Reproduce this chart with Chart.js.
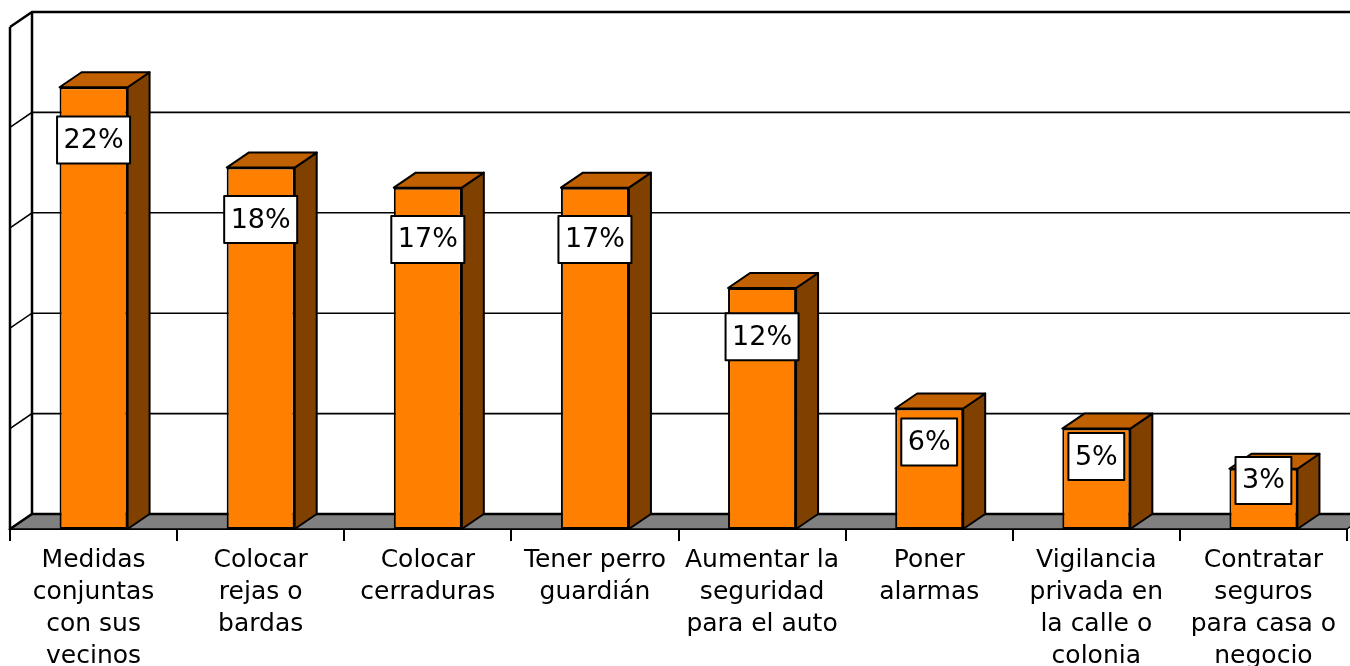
<!DOCTYPE html>
<html>
<head>
<meta charset="utf-8">
<script src="https://cdn.jsdelivr.net/npm/chart.js@4/dist/chart.umd.min.js"></script>
<style>
  html, body { margin: 0; padding: 0; background: #fff; }
</style>
</head>
<body>
<canvas id="chart" width="1350" height="666"></canvas>
<script>
// data
var categories = [
  ["Medidas", "conjuntas", "con sus", "vecinos"],
  ["Colocar", "rejas o", "bardas"],
  ["Colocar", "cerraduras"],
  ["Tener perro", "guardián"],
  ["Aumentar la", "seguridad", "para el auto"],
  ["Poner", "alarmas"],
  ["Vigilancia", "privada en", "la calle o", "colonia"],
  ["Contratar", "seguros", "para casa o", "negocio"]
];
var percentages = [22, 18, 17, 17, 12, 6, 5, 3];
var valueTicks = [0, 5, 10, 15, 20, 25];

// 3d offset of the back plane
var DX = 22;
var DY = 15;

function poly(ctx, pts) {
  ctx.beginPath();
  ctx.moveTo(pts[0][0], pts[0][1]);
  for (var i = 1; i < pts.length; i++) ctx.lineTo(pts[i][0], pts[i][1]);
  ctx.closePath();
}

var walls3d = {
  id: "walls3d",
  beforeDatasetsDraw: function (chart) {
    var ctx = chart.ctx, a = chart.chartArea, ys = chart.scales.y;
    var y0 = ys.getPixelForValue(0);
    var yTop = ys.getPixelForValue(valueTicks[valueTicks.length - 1]);
    ctx.save();
    // floor
    poly(ctx, [[a.left, y0], [a.right, y0], [a.right + DX, y0 - DY], [a.left + DX, y0 - DY]]);
    ctx.fillStyle = "#808080";
    ctx.fill();
    ctx.strokeStyle = "#000";
    ctx.lineWidth = 1.5;
    ctx.stroke();
    // grid lines on side wall and back wall
    valueTicks.forEach(function (v, i) {
      var p = ys.getPixelForValue(v);
      ctx.lineWidth = (i === valueTicks.length - 1 || i === 0) ? 2.5 : 1.6;
      ctx.beginPath();
      ctx.moveTo(a.left, p);
      ctx.lineTo(a.left + DX, p - DY);
      ctx.lineTo(chart.width, p - DY);
      ctx.stroke();
    });
    // wall edges
    ctx.lineWidth = 2.5;
    ctx.beginPath();
    ctx.moveTo(a.left, y0);
    ctx.lineTo(a.left, yTop);
    ctx.moveTo(a.left + DX, y0 - DY);
    ctx.lineTo(a.left + DX, yTop - DY);
    ctx.stroke();
    ctx.restore();
  },
  afterDatasetsDraw: function (chart) {
    var ctx = chart.ctx;
    var meta = chart.getDatasetMeta(0);
    ctx.save();
    ctx.strokeStyle = "#000";
    ctx.lineWidth = 2;
    ctx.lineJoin = "round";
    meta.data.forEach(function (bar) {
      var L = bar.x - bar.width / 2, R = bar.x + bar.width / 2;
      var t = bar.y, b = bar.base;
      // side face
      poly(ctx, [[R, t], [R + DX, t - DY], [R + DX, b - DY], [R, b]]);
      ctx.fillStyle = "#804000";
      ctx.fill();
      ctx.stroke();
      // top face
      poly(ctx, [[L, t], [L + DX, t - DY], [R + DX, t - DY], [R, t]]);
      ctx.fillStyle = "#C06000";
      ctx.fill();
      ctx.stroke();
    });
    // value labels
    ctx.font = "27px 'DejaVu Sans'";
    ctx.textAlign = "center";
    ctx.textBaseline = "middle";
    meta.data.forEach(function (bar, i) {
      var v = percentages[i];
      var txt = v + "%";
      var cy = bar.y + 53 * (1 - Math.exp(-(v - 2) / 4));
      var w = ctx.measureText(txt).width + 13;
      var h = 47;
      ctx.fillStyle = "#fff";
      ctx.fillRect(bar.x - w / 2, cy - h / 2, w, h);
      ctx.strokeRect(bar.x - w / 2, cy - h / 2, w, h);
      ctx.fillStyle = "#000";
      ctx.fillText(txt, bar.x, cy + 1);
    });
    ctx.restore();
  }
};

var ctx = document.getElementById("chart").getContext("2d");

var myBarChart = new Chart(ctx, {
  type: "bar",
  data: {
    labels: categories,
    datasets: [
      {
        data: percentages,
        backgroundColor: "#FF8000",
        borderColor: "#000",
        borderWidth: 2,
        borderSkipped: false,
        barPercentage: 0.407,
        categoryPercentage: 1
      }
    ]
  },
  plugins: [walls3d],
  options: {
    responsive: false,
    animation: false,
    layout: {
      padding: { left: 10, right: 3, top: 27, bottom: 0 }
    },
    scales: {
      x: {
        afterFit: function (scale) {
          scale.height = 137; // room for the wrapped labels
        },
        border: { display: true, color: "#000", width: 2 },
        grid: {
          drawOnChartArea: false,
          drawTicks: true,
          tickLength: 12,
          color: "#000",
          lineWidth: 2
        },
        ticks: {
          color: "#000",
          padding: 3,
          maxRotation: 0,
          autoSkip: false,
          font: { family: "'DejaVu Sans'", size: 25, lineHeight: 1.28 }
        }
      },
      y: {
        display: false,
        min: 0,
        max: 25
      }
    },
    plugins: {
      legend: { display: false },
      tooltip: { enabled: false }
    }
  }
});
</script>
</body>
</html>
